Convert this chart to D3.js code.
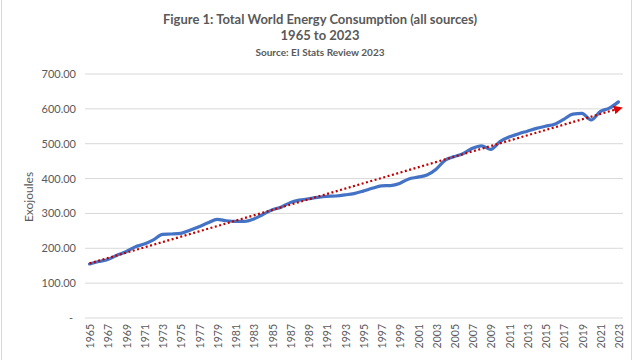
<!DOCTYPE html>
<html><head><meta charset="utf-8">
<script src="https://cdn.jsdelivr.net/npm/d3@7/dist/d3.min.js"></script>
<style>html,body{margin:0;padding:0;background:#fff;}svg{display:block;}</style>
</head><body>
<script>
const years = d3.range(1965, 2024).map(String);
const consumption = [155,162,168,180,190,204,212,224,240,241,243,252,262,273,283,279,277,277,284,297,310,318,331,338,342,346,349,350,353,357,364,372,379,380,386,399,404,410,427,453,463,472,487,494,484,506,519,528,536,544,550,556,570,585,587,568,592,602,620];
const yTicks = [0,100,200,300,400,500,600,700];
const titleLines = ["Figure 1: Total World Energy Consumption  (all sources)", "1965 to 2023"];
const sourceText = "Source: EI Stats Review 2023";
const yLabel = "Exojoules";

const W = 640, H = 360;
const svg = d3.select("body").append("svg").attr("width", W).attr("height", H);
const font = "Lato, 'Open Sans', sans-serif";
const grey = "#595959";

svg.append("rect").attr("x", 1.5).attr("y", -1).attr("width", 630).attr("height", H + 2)
  .attr("fill", "#fff").attr("stroke", "#d9d9d9");

const x = d3.scaleBand().domain(years).range([85, 623]).padding(0);
const y = d3.scaleLinear().domain([0, 700]).range([318, 74]);

// gridlines
svg.append("g").selectAll("line").data(yTicks).join("line")
  .attr("x1", 85).attr("x2", 623)
  .attr("y1", d => y(d)).attr("y2", d => y(d))
  .attr("stroke", "#d9d9d9").attr("stroke-width", 1);

// y axis labels
const yAxis = d3.axisLeft(y).tickValues(yTicks).tickSize(0).tickPadding(0)
  .tickFormat(d => d === 0 ? "-" : d3.format(".2f")(d));
const ya = svg.append("g").attr("transform", "translate(76,0)").call(yAxis);
ya.select(".domain").remove();
ya.selectAll("text").attr("font-family", font).attr("font-size", 11).attr("fill", grey)
  .attr("dx", 0);
ya.selectAll(".tick").filter(d => d === 0).select("text").attr("dx", -3);

// x axis labels
const xAxis = d3.axisBottom(x).tickValues(years.filter((d, i) => i % 2 === 0)).tickSize(0);
const xa = svg.append("g").attr("transform", "translate(0,318)").call(xAxis);
xa.select(".domain").remove();
xa.selectAll("text").attr("font-family", font).attr("font-size", 10.5).attr("fill", grey)
  .attr("transform", "rotate(-90)").attr("text-anchor", "end")
  .attr("x", -6).attr("y", 1).attr("dy", "0.35em");

// data line
const cx = d => x(d) + x.bandwidth() / 2;
const line = d3.line().x((d, i) => cx(years[i])).y(d => y(d)).curve(d3.curveMonotoneX);
svg.append("path").datum(consumption).attr("d", line)
  .attr("fill", "none").attr("stroke", "#4472C4").attr("stroke-width", 3.2)
  .attr("stroke-linejoin", "round").attr("stroke-linecap", "round");

// linear trendline (least squares of the series)
const n = consumption.length;
const xs = d3.range(n);
const mx = d3.mean(xs), my = d3.mean(consumption);
const slope = d3.sum(xs, i => (i - mx) * (consumption[i] - my)) / d3.sum(xs, i => (i - mx) ** 2);
const icpt = my - slope * mx;
const defs = svg.append("defs");
defs.append("marker").attr("id", "arr").attr("viewBox", "0 0 10 10").attr("refX", 5).attr("refY", 5)
  .attr("markerWidth", 4).attr("markerHeight", 4).attr("orient", "auto").attr("markerUnits", "strokeWidth")
  .append("path").attr("d", "M0,0 L10,5 L0,10 z").attr("fill", "#E00000");
svg.append("line")
  .attr("x1", cx(years[0])).attr("y1", y(icpt))
  .attr("x2", cx(years[n - 1])).attr("y2", y(icpt + slope * (n - 1)))
  .attr("stroke", "#C00000").attr("stroke-width", 2.2).attr("stroke-dasharray", "2,2.5")
  .attr("marker-end", "url(#arr)");

// title
const t = svg.append("g").attr("font-family", font).attr("font-weight", "bold").attr("fill", grey)
  .attr("text-anchor", "middle").style("white-space", "pre");
t.append("text").attr("x", 320).attr("y", 24).attr("font-size", 13).text(titleLines[0]);
t.append("text").attr("x", 320).attr("y", 40).attr("font-size", 13).text(titleLines[1]);
t.append("text").attr("x", 320).attr("y", 56).attr("font-size", 10).text(sourceText);

svg.append("text").attr("transform", "translate(33,197) rotate(-90)").attr("text-anchor", "middle")
  .attr("font-family", font).attr("font-size", 12).attr("fill", grey).text(yLabel);
</script>
</body></html>
